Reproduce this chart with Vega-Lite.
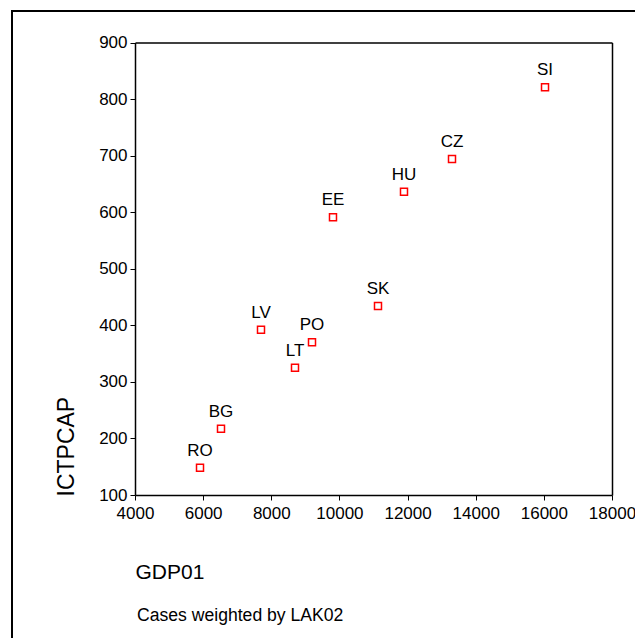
{
  "$schema": "https://vega.github.io/schema/vega-lite/v6.json",
  "width": 625,
  "height": 630,
  "autosize": {"type": "none"},
  "padding": {"left": 12, "top": 11, "right": -2, "bottom": -3},
  "background": "white",
  "config": {
    "font": "Liberation Sans",
    "view": {"stroke": "black", "strokeWidth": 2, "fill": "white"}
  },
  "title": {
    "text": "Cases weighted by LAK02",
    "orient": "top",
    "anchor": "start",
    "frame": "group",
    "offset": 0,
    "dx": 125,
    "dy": 628,
    "baseline": "alphabetic",
    "fontSize": 17.6,
    "fontWeight": "normal",
    "color": "black",
    "font": "Liberation Sans"
  },
  "data": {
    "values": [
      {"country": "SI", "GDP01": 16034, "ICTPCAP": 821},
      {"country": "CZ", "GDP01": 13304, "ICTPCAP": 694},
      {"country": "HU", "GDP01": 11895, "ICTPCAP": 636},
      {"country": "EE", "GDP01": 9811, "ICTPCAP": 591},
      {"country": "SK", "GDP01": 11132, "ICTPCAP": 434},
      {"country": "LV", "GDP01": 7698, "ICTPCAP": 392},
      {"country": "PO", "GDP01": 9195, "ICTPCAP": 370},
      {"country": "LT", "GDP01": 8696, "ICTPCAP": 325},
      {"country": "BG", "GDP01": 6524, "ICTPCAP": 217},
      {"country": "RO", "GDP01": 5908, "ICTPCAP": 148}
    ]
  },
  "layer": [
    {
      "mark": {"type": "point", "shape": "square", "filled": false, "color": "#ff0000", "strokeWidth": 1.5, "size": 49, "opacity": 1},
      "encoding": {
        "x": {
          "field": "GDP01", "type": "quantitative",
          "scale": {"domain": [4000, 18000], "range": [123, 600], "nice": false, "zero": false},
          "axis": {
            "orient": "bottom", "offset": -146,
            "values": [4000, 6000, 8000, 10000, 12000, 14000, 16000, 18000],
            "format": "d",
            "grid": false, "domainColor": "black", "domainWidth": 1.5,
            "tickColor": "black", "tickSize": 5, "tickWidth": 1,
            "labelFontSize": 17, "labelColor": "black", "labelPadding": 5,
            "labelFlush": false, "labelOverlap": false, "labelFont": "Liberation Sans",
            "title": "GDP01", "titleFontSize": 21, "titleFontWeight": "normal", "titleColor": "black",
            "titleFont": "Liberation Sans",
            "titleX": 123, "titleY": 83, "titleAlign": "left", "titleBaseline": "alphabetic"
          }
        },
        "y": {
          "field": "ICTPCAP", "type": "quantitative",
          "scale": {"domain": [100, 900], "range": [484, 31.5], "nice": false, "zero": false},
          "axis": {
            "orient": "left", "offset": -123,
            "values": [100, 200, 300, 400, 500, 600, 700, 800, 900],
            "grid": false, "domainColor": "black", "domainWidth": 1.5,
            "tickColor": "black", "tickSize": 5, "tickWidth": 1,
            "labelFontSize": 17, "labelColor": "black", "labelPadding": 3,
            "labelFlush": false, "labelOverlap": false, "labelFont": "Liberation Sans",
            "title": "ICTPCAP", "titleFontSize": 23, "titleFontWeight": "normal", "titleColor": "black",
            "titleFont": "Liberation Sans",
            "titleAngle": 270, "titleX": -62, "titleY": 485, "titleAlign": "left", "titleBaseline": "alphabetic"
          }
        }
      }
    },
    {
      "mark": {"type": "text", "dy": -12, "baseline": "alphabetic", "align": "center", "fontSize": 17, "color": "black", "font": "Liberation Sans"},
      "encoding": {
        "text": {"field": "country"},
        "x": {
          "field": "GDP01", "type": "quantitative",
          "scale": {"domain": [4000, 18000], "range": [123, 600], "nice": false, "zero": false},
          "axis": {"orient": "top", "offset": -31.5, "ticks": false, "labels": false, "title": null, "grid": false, "domainColor": "black", "domainWidth": 1.5}
        },
        "y": {
          "field": "ICTPCAP", "type": "quantitative",
          "scale": {"domain": [100, 900], "range": [484, 31.5], "nice": false, "zero": false},
          "axis": {"orient": "right", "offset": -25, "ticks": false, "labels": false, "title": null, "grid": false, "domainColor": "black", "domainWidth": 1.5}
        }
      }
    }
  ],
  "resolve": {"axis": {"x": "independent", "y": "independent"}}
}
